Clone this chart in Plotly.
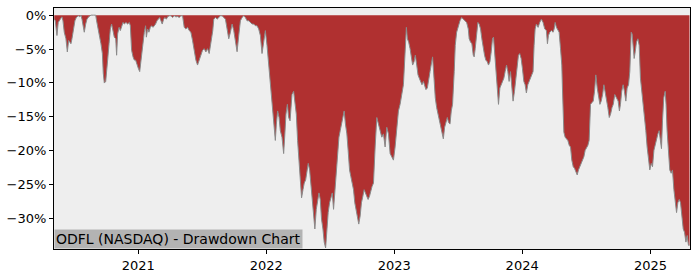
import pandas as pd
import plotly.graph_objects as go

# Decimal-year positions and drawdown values (%)
years = [
    2020.345, 2020.353, 2020.366, 2020.376, 2020.392, 2020.405, 2020.413, 2020.423, 2020.436, 2020.447,
    2020.457, 2020.467, 2020.475, 2020.483, 2020.493, 2020.506, 2020.517, 2020.532, 2020.545, 2020.553,
    2020.561, 2020.571, 2020.579, 2020.590, 2020.600, 2020.613, 2020.631, 2020.652, 2020.668, 2020.675,
    2020.686, 2020.699, 2020.709, 2020.720, 2020.727, 2020.735, 2020.746, 2020.753, 2020.761, 2020.772,
    2020.782, 2020.792, 2020.803, 2020.813, 2020.824, 2020.831, 2020.839, 2020.850, 2020.860, 2020.870,
    2020.881, 2020.891, 2020.904, 2020.917, 2020.930, 2020.938, 2020.948, 2020.959, 2020.969, 2020.979,
    2020.990, 2021.000, 2021.011, 2021.021, 2021.034, 2021.047, 2021.057, 2021.063, 2021.073, 2021.083,
    2021.094, 2021.104, 2021.115, 2021.125, 2021.135, 2021.146, 2021.156, 2021.167, 2021.177, 2021.187,
    2021.198, 2021.208, 2021.219, 2021.229, 2021.242, 2021.255, 2021.268, 2021.281, 2021.294, 2021.307,
    2021.320, 2021.333, 2021.346, 2021.359, 2021.372, 2021.385, 2021.398, 2021.411, 2021.424, 2021.437,
    2021.450, 2021.463, 2021.476, 2021.489, 2021.502, 2021.515, 2021.528, 2021.541, 2021.554, 2021.562,
    2021.572, 2021.582,
    2021.590, 2021.603, 2021.616, 2021.629, 2021.642, 2021.655, 2021.668, 2021.681, 2021.694, 2021.707,
    2021.720, 2021.733, 2021.746, 2021.759, 2021.772, 2021.785, 2021.798, 2021.811, 2021.824, 2021.837,
    2021.850, 2021.863, 2021.876, 2021.889, 2021.902, 2021.915, 2021.928, 2021.941, 2021.954, 2021.967,
    2021.980, 2021.993, 2022.006, 2022.019, 2022.032, 2022.045, 2022.058, 2022.071, 2022.079, 2022.089,
    2022.100, 2022.110, 2022.123, 2022.136, 2022.144, 2022.154, 2022.165, 2022.175, 2022.186, 2022.194,
    2022.201, 2022.214,
    2022.222, 2022.235, 2022.245, 2022.256, 2022.266, 2022.276, 2022.287, 2022.297, 2022.308, 2022.318,
    2022.328, 2022.339, 2022.349, 2022.360, 2022.370, 2022.380, 2022.391, 2022.401, 2022.412, 2022.422,
    2022.432, 2022.443, 2022.453, 2022.464, 2022.474, 2022.484, 2022.495, 2022.505, 2022.516, 2022.526,
    2022.536, 2022.547, 2022.557, 2022.568, 2022.578, 2022.588, 2022.599, 2022.609, 2022.619, 2022.630,
    2022.640, 2022.651, 2022.661, 2022.671, 2022.682, 2022.692, 2022.703, 2022.713, 2022.723, 2022.734,
    2022.744, 2022.755, 2022.765, 2022.775, 2022.786, 2022.796, 2022.807, 2022.817, 2022.827, 2022.838,
    2022.843, 2022.851, 2022.864, 2022.877, 2022.890, 2022.903, 2022.916, 2022.929, 2022.942, 2022.955,
    2022.968, 2022.981, 2022.994, 2023.007, 2023.020, 2023.033, 2023.046, 2023.059, 2023.072, 2023.080,
    2023.087, 2023.095, 2023.103, 2023.113, 2023.124, 2023.134, 2023.144, 2023.155, 2023.165, 2023.176,
    2023.186, 2023.196, 2023.207, 2023.217, 2023.228, 2023.238, 2023.248, 2023.259, 2023.269, 2023.280,
    2023.293, 2023.300, 2023.311, 2023.321, 2023.332, 2023.342, 2023.353, 2023.363, 2023.373, 2023.384,
    2023.394, 2023.405, 2023.415, 2023.425, 2023.436, 2023.446, 2023.456,
    2023.469, 2023.477, 2023.488, 2023.501, 2023.514, 2023.527, 2023.540, 2023.553, 2023.566, 2023.579,
    2023.586, 2023.597, 2023.607, 2023.618, 2023.625, 2023.633, 2023.644, 2023.654, 2023.664, 2023.675,
    2023.685, 2023.696, 2023.706, 2023.716, 2023.727, 2023.737, 2023.748, 2023.758, 2023.768, 2023.776,
    2023.784, 2023.794, 2023.805, 2023.815, 2023.826, 2023.836, 2023.846, 2023.857, 2023.867, 2023.878,
    2023.888, 2023.898, 2023.909, 2023.919, 2023.929, 2023.940, 2023.950, 2023.961, 2023.971, 2023.981,
    2023.992, 2024.002, 2024.013, 2024.023, 2024.033, 2024.044, 2024.054, 2024.065, 2024.075, 2024.085,
    2024.093, 2024.101, 2024.111, 2024.124, 2024.137, 2024.150, 2024.163, 2024.176, 2024.189, 2024.197,
    2024.205, 2024.215, 2024.228, 2024.241, 2024.249, 2024.257, 2024.267, 2024.278, 2024.288, 2024.299,
    2024.309, 2024.314, 2024.320, 2024.325, 2024.335, 2024.346, 2024.356, 2024.367, 2024.377, 2024.387,
    2024.398, 2024.408, 2024.419, 2024.429, 2024.439, 2024.450, 2024.460, 2024.471, 2024.481, 2024.491,
    2024.502, 2024.512, 2024.522, 2024.533, 2024.543, 2024.554, 2024.564, 2024.574, 2024.585, 2024.595,
    2024.606, 2024.616, 2024.627, 2024.637, 2024.647, 2024.658, 2024.668, 2024.679, 2024.689, 2024.700,
    2024.710,
    2024.722, 2024.735, 2024.748, 2024.758, 2024.766, 2024.776, 2024.787, 2024.797, 2024.808, 2024.818,
    2024.829, 2024.839, 2024.850, 2024.857, 2024.865, 2024.873, 2024.881, 2024.891, 2024.902, 2024.912,
    2024.922, 2024.933, 2024.943, 2024.954, 2024.964, 2024.974, 2024.985, 2024.995, 2025.006, 2025.016,
    2025.027, 2025.037, 2025.047, 2025.058, 2025.068, 2025.079, 2025.086, 2025.094, 2025.104, 2025.115,
    2025.122, 2025.130, 2025.141, 2025.151, 2025.162, 2025.172, 2025.183, 2025.193, 2025.204, 2025.214,
    2025.225, 2025.235, 2025.245, 2025.256, 2025.266, 2025.277, 2025.287, 2025.297, 2025.305,
]

drawdown_pct = [
    -0.59, -0.83, -3.01, -1.07, -0.59, -0.25, -0.83, -2.52, -3.49, -5.43,
    -3.74, -3.98, -4.22, -3.49, -2.04, -0.83, -0.34, -0.10, -0.25, 0.00,
    -0.59, -1.56, -2.52, -1.31, -0.59, -0.25, 0.00, 0.00, 0.00, -0.83,
    -2.28, -3.25, -4.22, -5.67, -8.58, -10.03, -9.79, -8.58, -6.64, -4.22,
    -2.04, -1.31, -2.28, -3.25, -3.49, -5.92, -2.77, -1.80, -2.28, -1.56,
    -1.07, -1.31, -1.07, -1.31, -1.07, -1.56, -5.19, -6.16, -6.64, -6.64,
    -7.37, -7.85, -8.34, -6.64, -4.22, -2.52, -1.56, -3.25, -2.04, -2.52,
    -1.80, -1.56, -1.80, -1.56, -1.31, -0.83, -0.59, -0.34, -0.83, -1.31,
    -0.59, -0.34, -0.59, -0.25, -0.10, -0.10, -0.34, -0.10, -0.25, -0.20,
    -0.34, -0.10, -0.10, -1.80, -2.04, -1.80, -2.28, -2.52, -3.74, -5.43,
    -6.64, -7.37, -6.64, -5.92, -5.19, -4.95, -5.43, -4.95, -5.67, -4.70,
    -3.74, -2.28,
    -0.59, -0.34, -0.59, -0.34, -0.10, -0.10, -0.34, -0.59, -2.04, -3.49,
    -2.52, -1.31, -2.28, -3.98, -5.40, -3.01, -0.83, -0.34, -0.10, -0.34,
    -0.83, -0.83, -1.07, -1.31, -1.31, -1.56, -1.56, -2.04, -3.01, -5.67,
    -3.98, -2.28, -4.46, -7.37, -9.79, -12.21, -15.12, -18.51, -16.09, -14.15,
    -15.12, -17.06, -18.03, -20.45, -18.03, -14.64, -13.18, -15.12, -15.61, -13.18,
    -11.73, -11.25,
    -12.70, -14.64, -18.51, -21.42, -24.81, -26.99, -25.78, -24.81, -24.33, -22.87,
    -21.90, -22.87, -24.81, -26.75, -29.66, -31.59, -28.69, -27.72, -26.26, -27.23,
    -30.14, -31.59, -33.53, -34.40, -31.59, -29.17, -27.72, -26.75, -26.26, -28.69,
    -25.78, -22.87, -19.97, -18.03, -17.06, -16.09, -15.12, -14.15, -16.09, -17.54,
    -19.97, -22.87, -23.84, -24.81, -25.78, -27.72, -28.69, -29.66, -30.87, -29.66,
    -27.72, -26.75, -25.78, -26.26, -26.75, -27.23, -26.75, -25.78, -25.30, -24.81,
    -21.90, -19.48, -15.12, -16.09, -17.06, -18.03, -17.54, -19.48, -16.57, -17.54,
    -20.45, -20.93, -21.42, -19.48, -16.09, -14.15, -13.18, -11.73, -10.28, -7.37,
    -3.49, -1.80, -3.49, -3.98, -4.95, -5.92, -7.37, -6.88, -5.92, -7.37,
    -8.82, -9.31, -9.79, -10.28, -9.79, -10.28, -11.00, -10.76, -9.79, -8.34,
    -6.88, -6.16, -9.31, -12.21, -13.67, -14.64, -15.61, -16.57, -17.54, -18.27,
    -16.57, -15.61, -15.12, -15.85, -16.09, -14.15, -13.18,
    -8.34, -4.46, -2.52, -1.56, -0.83, -0.34, -0.59, -0.83, -1.07, -2.04,
    -3.49, -3.98, -4.22, -5.92, -6.16, -4.95, -3.01, -1.07, -1.31, -2.04,
    -3.49, -4.95, -5.92, -6.64, -6.88, -7.37, -6.88, -5.43, -3.49, -3.25,
    -5.43, -7.37, -9.79, -13.18, -10.76, -10.28, -9.79, -9.31, -8.34, -7.37,
    -8.34, -9.79, -8.34, -10.28, -12.70, -11.25, -9.31, -7.37, -5.92, -5.67,
    -6.40, -7.85, -9.79, -10.28, -11.49, -10.28, -9.79, -9.55, -8.82, -8.34,
    -4.46, -2.04, -1.31, -1.80, -1.07, -0.59, -1.07, -2.04, -2.28, -4.22,
    -3.01, -2.52, -2.28, -2.52, -2.04, -1.07, -1.80, -2.28, -2.52, -4.95,
    -7.37, -10.76, -14.64, -17.30, -18.03, -18.27, -18.51, -19.24, -19.48, -21.42,
    -22.39, -22.63, -23.11, -23.60, -22.87, -22.39, -21.90, -21.42, -20.93, -19.97,
    -19.48, -19.24, -18.51, -13.18, -12.94, -12.70, -11.25, -8.82, -10.76, -12.21,
    -13.18, -12.70, -11.73, -10.28, -11.25, -12.70, -13.67, -15.12, -14.64, -13.67,
    -13.18,
    -11.73, -12.21, -12.70, -14.15, -13.18, -11.25, -10.28, -11.25, -12.70, -10.76,
    -10.28, -8.34, -2.52, -2.77, -4.46, -6.40, -5.43, -3.98, -3.49, -4.46,
    -9.31, -11.25, -12.70, -14.64, -17.06, -19.48, -21.42, -22.87, -21.90, -22.39,
    -19.97, -19.00, -18.03, -17.54, -17.06, -18.51, -19.72, -15.61, -12.21, -11.25,
    -13.18, -17.06, -19.97, -22.87, -23.36, -22.87, -25.78, -27.72, -29.17, -27.72,
    -27.23, -27.72, -30.14, -31.59, -32.08, -33.53, -32.56, -34.01, -34.01,
]

y_tick_vals = [0, -5, -10, -15, -20, -25, -30]
y_tick_text = ["0%", "\u22125%", "\u221210%", "\u221215%", "\u221220%", "\u221225%", "\u221230%"]
x_tick_years = [2021, 2022, 2023, 2024, 2025]
x_tick_text = ["2021", "2022", "2023", "2024", "2025"]
title_text = "ODFL (NASDAQ) - Drawdown Chart"


def year_to_date(y):
    yr = int(y)
    start = pd.Timestamp(year=yr, month=1, day=1)
    end = pd.Timestamp(year=yr + 1, month=1, day=1)
    return start + (end - start) * (y - yr)


dates = [year_to_date(y) for y in years]
x_ticks = [pd.Timestamp(year=y, month=1, day=1) for y in x_tick_years]

fig = go.Figure()
fig.add_trace(go.Scatter(
    x=dates, y=drawdown_pct, mode="lines",
    line=dict(color="#8a8a8a", width=1),
    fill="tozeroy", fillcolor="#b03030",
    hoverinfo="skip", showlegend=False,
))

font_family = "DejaVu Sans, sans-serif"
fig.update_layout(
    width=700, height=280,
    margin=dict(l=53, r=10, t=7, b=28),
    paper_bgcolor="white", plot_bgcolor="#eeeeee",
    font=dict(family=font_family, size=13, color="black"),
    showlegend=False,
    xaxis=dict(
        range=[year_to_date(2020.343), year_to_date(2025.309)],
        tickvals=x_ticks, ticktext=x_tick_text,
        showgrid=False, zeroline=False,
        showline=True, linecolor="black", linewidth=1, mirror=True,
        ticks="outside", ticklen=4, tickcolor="black",
    ),
    yaxis=dict(
        range=[-34.55, 1.06],
        tickvals=y_tick_vals, ticktext=y_tick_text,
        showgrid=False, zeroline=False,
        showline=True, linecolor="black", linewidth=1, mirror=True,
        ticks="outside", ticklen=4, tickcolor="black",
    ),
    annotations=[dict(
        text=title_text, xref="paper", yref="paper", x=0, y=0,
        xanchor="left", yanchor="bottom", showarrow=False,
        font=dict(family=font_family, size=14, color="black"),
        bgcolor="#b3b3b3", borderpad=1,
    )],
)

fig.write_html("out.html")
